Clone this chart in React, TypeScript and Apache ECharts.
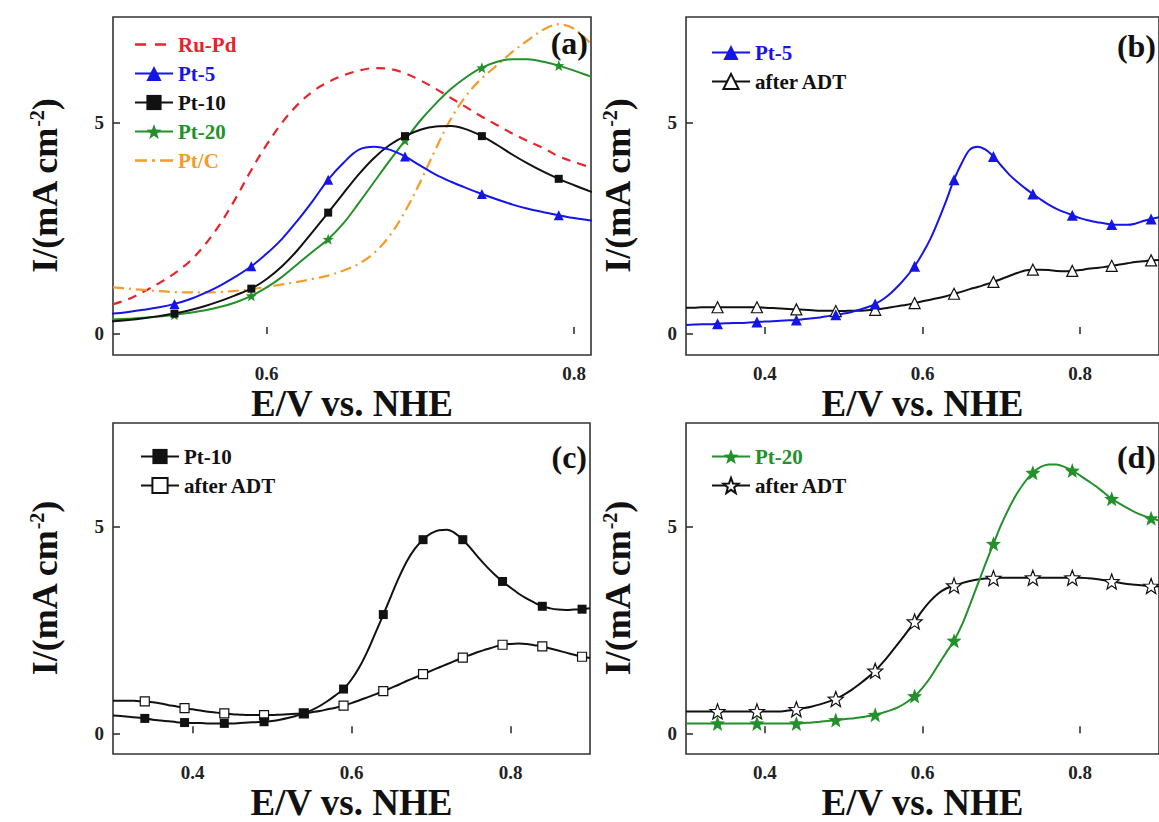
import React, { useEffect, useRef } from "react";
import * as echarts from "echarts";

// Potential (V vs. NHE) sampled every 0.01 V for panels (b)-(d) and Pt curves
const E = [
  0.30, 0.31, 0.32, 0.33, 0.34, 0.35, 0.36, 0.37, 0.38, 0.39,
  0.40, 0.41, 0.42, 0.43, 0.44, 0.45, 0.46, 0.47, 0.48, 0.49,
  0.50, 0.51, 0.52, 0.53, 0.54, 0.55, 0.56, 0.57, 0.58, 0.59,
  0.60, 0.61, 0.62, 0.63, 0.64, 0.65, 0.66, 0.67, 0.68, 0.69,
  0.70, 0.71, 0.72, 0.73, 0.74, 0.75, 0.76, 0.77, 0.78, 0.79,
  0.80, 0.81, 0.82, 0.83, 0.84, 0.85, 0.86, 0.87, 0.88, 0.89,
  0.90,
];
// Potential grid for the curves that appear only in panel (a)
const E_A = [
  0.50, 0.51, 0.52, 0.53, 0.54, 0.55, 0.56, 0.57, 0.58, 0.59,
  0.60, 0.61, 0.62, 0.63, 0.64, 0.65, 0.66, 0.67, 0.68, 0.69,
  0.70, 0.71, 0.72, 0.73, 0.74, 0.75, 0.76, 0.77, 0.78, 0.79,
  0.80, 0.81,
];
// Potentials where the symbols are drawn
const MARKER_E = [0.34, 0.39, 0.44, 0.49, 0.54, 0.59, 0.64, 0.69, 0.74, 0.79, 0.84, 0.89];

const RU_PD = [
  0.70, 0.82, 1.00, 1.20, 1.43, 1.72, 2.12, 2.62, 3.22, 3.88,
  4.48, 5.00, 5.42, 5.74, 5.96, 6.12, 6.23, 6.29, 6.27, 6.17,
  6.00, 5.80, 5.58, 5.36, 5.14, 4.94, 4.74, 4.56, 4.40, 4.20,
  4.07, 3.95,
];
const PT_C = [
  1.10, 1.07, 1.04, 1.01, 0.99, 0.98, 0.98, 0.99, 1.02, 1.06,
  1.11, 1.17, 1.23, 1.30, 1.38, 1.50, 1.66, 1.92, 2.32, 2.90,
  3.60, 4.38, 5.10, 5.65, 6.05, 6.36, 6.68, 6.95, 7.20, 7.33,
  7.22, 6.90,
];
const PT5 = [
  0.21, 0.22, 0.23, 0.23, 0.24, 0.25, 0.26, 0.26, 0.27, 0.28,
  0.29, 0.30, 0.31, 0.32, 0.33, 0.35, 0.37, 0.39, 0.42, 0.45,
  0.48, 0.52, 0.57, 0.63, 0.71, 0.82, 0.97, 1.15, 1.36, 1.60,
  1.90, 2.25, 2.68, 3.15, 3.65, 4.05, 4.36, 4.43, 4.36, 4.20,
  3.98, 3.77, 3.60, 3.45, 3.31, 3.18, 3.06, 2.96, 2.88, 2.81,
  2.74, 2.69, 2.65, 2.62, 2.59, 2.58, 2.58, 2.61, 2.67, 2.72,
  2.76,
];
const PT5_ADT = [
  0.62, 0.62, 0.63, 0.63, 0.63, 0.63, 0.63, 0.63, 0.63, 0.63,
  0.62, 0.61, 0.60, 0.59, 0.58, 0.57, 0.56, 0.55, 0.55, 0.54,
  0.54, 0.55, 0.55, 0.56, 0.57, 0.60, 0.63, 0.66, 0.69, 0.73,
  0.77, 0.81, 0.85, 0.89, 0.95, 1.00, 1.06, 1.11, 1.17, 1.23,
  1.30, 1.37, 1.44, 1.50, 1.52, 1.52, 1.51, 1.49, 1.48, 1.49,
  1.51, 1.54, 1.56, 1.58, 1.61, 1.64, 1.67, 1.70, 1.72, 1.74,
  1.75,
];
const PT10 = [
  0.43, 0.42, 0.40, 0.38, 0.36, 0.33, 0.31, 0.29, 0.27, 0.26,
  0.25, 0.25, 0.24, 0.24, 0.24, 0.24, 0.25, 0.26, 0.27, 0.28,
  0.30, 0.33, 0.37, 0.42, 0.48, 0.56, 0.66, 0.78, 0.92, 1.07,
  1.30, 1.60, 1.98, 2.42, 2.87, 3.33, 3.78, 4.17, 4.47, 4.68,
  4.83, 4.91, 4.92, 4.84, 4.68, 4.47, 4.24, 4.03, 3.84, 3.67,
  3.52, 3.38, 3.26, 3.16, 3.07, 3.02, 2.99, 2.98, 2.99, 3.00,
  3.02,
];
const PT10_ADT = [
  0.79, 0.79, 0.79, 0.78, 0.77, 0.75, 0.72, 0.68, 0.65, 0.61,
  0.58, 0.55, 0.52, 0.50, 0.48, 0.46, 0.45, 0.44, 0.44, 0.44,
  0.44, 0.45, 0.46, 0.47, 0.48, 0.51, 0.54, 0.58, 0.62, 0.67,
  0.73, 0.80, 0.87, 0.94, 1.02, 1.10, 1.18, 1.27, 1.35, 1.43,
  1.51, 1.59, 1.67, 1.75, 1.83, 1.90, 1.97, 2.03, 2.09, 2.14,
  2.16, 2.17, 2.16, 2.13, 2.10, 2.05, 2.00, 1.95, 1.90, 1.85,
  1.82,
];
const PT20 = [
  0.24, 0.24, 0.24, 0.24, 0.24, 0.24, 0.24, 0.24, 0.24, 0.24,
  0.24, 0.24, 0.24, 0.24, 0.24, 0.25, 0.26, 0.28, 0.30, 0.32,
  0.34, 0.36, 0.38, 0.41, 0.45, 0.50, 0.56, 0.64, 0.75, 0.90,
  1.10, 1.35, 1.65, 1.95, 2.24, 2.62, 3.10, 3.60, 4.10, 4.58,
  5.05, 5.45, 5.80, 6.08, 6.30, 6.44, 6.50, 6.50, 6.44, 6.35,
  6.23, 6.10, 5.97, 5.82, 5.67, 5.55, 5.44, 5.34, 5.26, 5.20,
  5.14,
];
const PT20_ADT = [
  0.53, 0.53, 0.53, 0.53, 0.53, 0.53, 0.53, 0.53, 0.53, 0.53,
  0.53, 0.53, 0.53, 0.55, 0.58, 0.61, 0.65, 0.70, 0.76, 0.83,
  0.93, 1.05, 1.19, 1.34, 1.51, 1.72, 1.95, 2.19, 2.44, 2.70,
  2.97, 3.20, 3.38, 3.50, 3.57, 3.63, 3.68, 3.72, 3.74, 3.75,
  3.76, 3.76, 3.76, 3.76, 3.76, 3.76, 3.76, 3.76, 3.76, 3.76,
  3.76, 3.75, 3.73, 3.70, 3.67, 3.64, 3.61, 3.59, 3.57, 3.56,
  3.55,
];

const X_TICKS_A = [0.6, 0.8];
const X_TICKS = [0.4, 0.6, 0.8];
const Y_TICKS = [0, 5];
const PANEL_LABELS = ["(a)", "(b)", "(c)", "(d)"];
const X_TITLE = "E/V vs. NHE";

const FONT = "Liberation Serif";
const RED = "#e5252b";
const BLUE = "#1515e8";
const BLACK = "#111111";
const GREEN = "#22912a";
const ORANGE = "#f49b2a";
const STAR =
  "path://M100,0L124.7,66L195.1,69.1L139.9,113L158.8,180.9L100,142L41.2,180.9L60.1,113L4.9,69.1L75.3,66Z";
const DASH_ICON = "path://M38,2.5M0,0h11v2.5h-11zM20,0h11v2.5h-11z";
const DASHDOT_ICON = "path://M38,2.5M0,0h12v2.5h-12zM17,0h3v2.5h-3zM25,0h13v2.5h-13z";

const markerKeys = new Set(MARKER_E.map((v) => v.toFixed(2)));
function withMarkers(xs: number[], ys: number[]) {
  return ys.map((y, i) =>
    markerKeys.has(xs[i].toFixed(2)) ? [xs[i], y] : { value: [xs[i], y], symbol: "none" }
  );
}
function plain(xs: number[], ys: number[]) {
  return ys.map((y, i) => [xs[i], y]);
}

export default function App() {
  const ref = useRef<HTMLDivElement>(null);

  useEffect(() => {
    if (!ref.current) return;
    const chart = echarts.init(ref.current, undefined, { renderer: "svg" });

    const grids = [
      { left: 113, top: 17, width: 478, height: 338 },
      { left: 686, top: 17, width: 476, height: 338 },
      { left: 113, top: 423, width: 477, height: 337 },
      { left: 686, top: 423, width: 476, height: 337 },
    ].map((g) => ({
      ...g,
      show: true,
      borderColor: "#333",
      borderWidth: 1.6,
      backgroundColor: "transparent",
    }));

    const tickLabel = {
      fontSize: 19,
      fontWeight: "bold",
      fontFamily: FONT,
      color: "#222",
    };
    const titleStyle = {
      fontSize: 37,
      fontWeight: "bold",
      fontFamily: FONT,
      color: "#111",
    };

    const xAxis = [0, 1, 2, 3].map((i) => {
      const ticks = i === 0 ? X_TICKS_A : X_TICKS;
      return {
        type: "value",
        gridIndex: i,
        min: i === 0 ? 0.5 : 0.3,
        max: i === 0 ? 0.811 : 0.9,
        axisLine: { show: false },
        axisTick: {
          show: true,
          inside: true,
          length: 7,
          customValues: ticks,
          lineStyle: { color: "#333", width: 1.6 },
        },
        axisLabel: {
          ...tickLabel,
          margin: 9,
          customValues: ticks,
          formatter: (v: number) => v.toFixed(1),
        },
        splitLine: { show: false },
        name: X_TITLE,
        nameLocation: "middle",
        nameGap: 30,
        nameTextStyle: titleStyle,
      };
    });

    const yAxis = [0, 1, 2, 3].map((i) => ({
      type: "value",
      gridIndex: i,
      min: -0.5,
      max: 7.5,
      axisLine: { show: false },
      axisTick: {
        show: true,
        inside: true,
        length: 7,
        customValues: Y_TICKS,
        lineStyle: { color: "#333", width: 1.6 },
      },
      axisLabel: {
        ...tickLabel,
        margin: 9,
        customValues: Y_TICKS,
        formatter: (v: number) => String(v),
      },
      splitLine: { show: false },
      name: "{t|I/(mA cm}{s|-2}{t|)}",
      nameLocation: "middle",
      nameRotate: 90,
      nameGap: 50,
      nameTextStyle: {
        fontFamily: FONT,
        fontWeight: "bold",
        rich: {
          t: { ...titleStyle, fontSize: 36 },
          s: { fontSize: 20, fontWeight: "bold", fontFamily: FONT, color: "#111", verticalAlign: "top" },
        },
      },
    }));

    const line = (
      name: string,
      gi: number,
      data: any[],
      color: string,
      symbol: string,
      symbolSize: number,
      extra: any = {}
    ) => ({
      type: "line",
      name,
      xAxisIndex: gi,
      yAxisIndex: gi,
      data,
      symbol,
      symbolSize,
      showSymbol: true,
      smooth: 0.35,
      clip: true,
      lineStyle: { color, width: 2 },
      itemStyle: { color },
      emphasis: { disabled: true },
      ...extra,
    });

    const openStyle = { color: "#ffffff", borderColor: BLACK, borderWidth: 1.2 };

    const series = [
      // (a)
      line("Ru-Pd", 0, plain(E_A, RU_PD), RED, "none", 0, {
        lineStyle: { color: RED, width: 2.2, type: [9, 7] },
      }),
      line("Pt/C", 0, plain(E_A, PT_C), ORANGE, "none", 0, {
        lineStyle: { color: ORANGE, width: 2.2, type: [11, 5, 2, 5] },
      }),
      line("Pt-20", 0, withMarkers(E, PT20), GREEN, STAR, 11),
      line("Pt-10", 0, withMarkers(E, PT10), BLACK, "rect", 8),
      line("Pt-5", 0, withMarkers(E, PT5), BLUE, "triangle", 10),
      // (b)
      line("after ADT (b)", 1, withMarkers(E, PT5_ADT), BLACK, "triangle", 11, {
        itemStyle: openStyle,
        lineStyle: { color: BLACK, width: 2 },
      }),
      line("Pt-5 (b)", 1, withMarkers(E, PT5), BLUE, "triangle", 11),
      // (c)
      line("after ADT (c)", 2, withMarkers(E, PT10_ADT), BLACK, "rect", 9, {
        itemStyle: openStyle,
        lineStyle: { color: BLACK, width: 2 },
      }),
      line("Pt-10 (c)", 2, withMarkers(E, PT10), BLACK, "rect", 9),
      // (d)
      line("after ADT (d)", 3, withMarkers(E, PT20_ADT), BLACK, STAR, 15, {
        itemStyle: openStyle,
        lineStyle: { color: BLACK, width: 2 },
      }),
      line("Pt-20 (d)", 3, withMarkers(E, PT20), GREEN, STAR, 15),
    ];

    const legendText = { fontSize: 21, fontWeight: "bold", fontFamily: FONT };
    const legendBase = {
      orient: "vertical",
      itemWidth: 38,
      itemHeight: 19,
      itemGap: 8,
      padding: 0,
      selectedMode: false,
      textStyle: legendText,
      formatter: (n: string) => n.replace(/ \([a-d]\)$/, ""),
    };
    const legend = [
      {
        ...legendBase,
        left: 134,
        top: 34,
        data: [
          { name: "Ru-Pd", icon: DASH_ICON, textStyle: { ...legendText, color: RED } },
          { name: "Pt-5", textStyle: { ...legendText, color: BLUE } },
          { name: "Pt-10", textStyle: { ...legendText, color: BLACK } },
          { name: "Pt-20", textStyle: { ...legendText, color: GREEN } },
          { name: "Pt/C", icon: DASHDOT_ICON, textStyle: { ...legendText, color: ORANGE } },
        ],
      },
      {
        ...legendBase,
        left: 711,
        top: 42,
        data: [
          { name: "Pt-5 (b)", textStyle: { ...legendText, color: BLUE } },
          { name: "after ADT (b)", textStyle: { ...legendText, color: BLACK } },
        ],
      },
      {
        ...legendBase,
        left: 140,
        top: 446,
        data: [
          { name: "Pt-10 (c)", textStyle: { ...legendText, color: BLACK } },
          { name: "after ADT (c)", textStyle: { ...legendText, color: BLACK } },
        ],
      },
      {
        ...legendBase,
        left: 711,
        top: 446,
        data: [
          { name: "Pt-20 (d)", textStyle: { ...legendText, color: GREEN } },
          { name: "after ADT (d)", textStyle: { ...legendText, color: BLACK } },
        ],
      },
    ];

    const labelPos = [
      [588, 43],
      [1156, 46],
      [587, 457],
      [1156, 457],
    ];
    const graphic = PANEL_LABELS.map((t, i) => ({
      type: "text",
      x: labelPos[i][0],
      y: labelPos[i][1],
      z: 100,
      style: {
        text: t,
        fontSize: 32,
        fontWeight: "bold",
        fontFamily: FONT,
        fill: "#111",
        align: "right",
        verticalAlign: "middle",
      },
    }));

    chart.setOption({
      animation: false,
      backgroundColor: "#ffffff",
      textStyle: { fontFamily: FONT },
      grid: grids,
      xAxis,
      yAxis,
      legend,
      series,
      graphic,
    } as any);

    return () => chart.dispose();
  }, []);

  return (
    <div
      ref={ref}
      style={{ position: "fixed", left: 0, top: 0, width: 1159, height: 822, background: "#fff" }}
    />
  );
}
